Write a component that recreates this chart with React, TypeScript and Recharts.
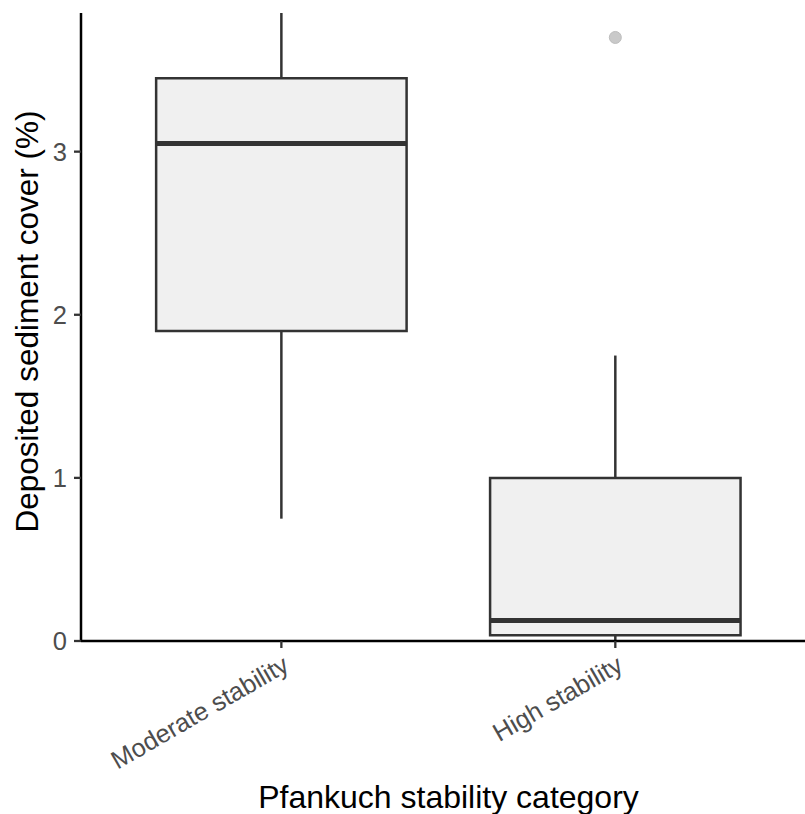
import React from 'react';
import { ComposedChart, XAxis, YAxis, Scatter, ReferenceArea, ReferenceLine } from 'recharts';

const FONT = '"Liberation Sans", Arial, Helvetica, sans-serif';

const categories = ['Moderate stability', 'High stability'];
const categoryPos = [1, 2];
const lowerWhisker = [0.75, 0.0];
const q1 = [1.9, 0.035];
const median = [3.05, 0.125];
const q3 = [3.45, 1.0];
const upperWhisker = [3.85, 1.75];
const outliers = [{ x: 2, y: 3.7 }];
const yTicks = [0, 1, 2, 3];
const boxWidth = 0.75;

const BOX_STROKE = '#333333';

const XTick = (props: any) => {
  const { x, y, payload } = props;
  const idx = categoryPos.indexOf(payload.value);
  return (
    <g transform={`translate(${x},${y})`}>
      <text
        transform="rotate(-30)"
        textAnchor="end"
        dy="0.72em"
        fill="#4d4d4d"
        fontSize={25.5}
        fontFamily={FONT}
      >
        {idx >= 0 ? categories[idx] : ''}
      </text>
    </g>
  );
};

const OutlierDot = (props: any) => {
  const { cx, cy } = props;
  return <circle cx={cx} cy={cy} r={6} fill="#c9c9c9" stroke="#bdbdbd" strokeWidth={1} />;
};

export default function App() {
  return (
    <div style={{ position: 'absolute', left: 0, top: 0 }}>
      <ComposedChart
        width={805}
        height={814}
        margin={{ top: 13, right: 0, bottom: 0, left: 0 }}
        data={outliers}
      >
        <XAxis
          type="number"
          dataKey="x"
          domain={[0.4, 2.568]}
          ticks={categoryPos}
          allowDataOverflow
          height={173}
          tickSize={7}
          tickMargin={6}
          axisLine={{ stroke: '#000', strokeWidth: 2.5 }}
          tickLine={{ stroke: '#333', strokeWidth: 2.3 }}
          tick={<XTick />}
          interval={0}
          label={{
            content: (p: any) => {
              const vb = p.viewBox;
              return (
                <text
                  x={vb.x + vb.width / 2 + 5.5}
                  y={vb.y + 167}
                  textAnchor="middle"
                  fill="#000"
                  fontSize={32}
                  fontFamily={FONT}
                >
                  Pfankuch stability category
                </text>
              );
            },
          }}
        />
        <YAxis
          type="number"
          dataKey="y"
          domain={[0, 3.85]}
          ticks={yTicks}
          allowDataOverflow
          width={81}
          tickSize={7}
          tickMargin={7}
          axisLine={{ stroke: '#000', strokeWidth: 2.5 }}
          tickLine={{ stroke: '#333', strokeWidth: 2.3 }}
          tick={{ fill: '#4d4d4d', fontSize: 25.5, fontFamily: FONT }}
          label={{
            content: (p: any) => {
              const vb = p.viewBox;
              const cy = vb.y + vb.height / 2 - 5.5;
              return (
                <text
                  x={37.5}
                  y={cy}
                  transform={`rotate(-90, 37.5, ${cy})`}
                  textAnchor="middle"
                  fill="#000"
                  fontSize={31.5}
                  fontFamily={FONT}
                >
                  Deposited sediment cover (%)
                </text>
              );
            },
          }}
        />
        {categoryPos.map((c, i) => (
          <ReferenceLine
            key={`uw-${i}`}
            segment={[{ x: c, y: q3[i] }, { x: c, y: upperWhisker[i] }]}
            stroke={BOX_STROKE}
            strokeWidth={2.5}
          />
        ))}
        {categoryPos.map((c, i) => (
          <ReferenceLine
            key={`lw-${i}`}
            segment={[{ x: c, y: lowerWhisker[i] }, { x: c, y: q1[i] }]}
            stroke={BOX_STROKE}
            strokeWidth={2.5}
          />
        ))}
        {categoryPos.map((c, i) => (
          <ReferenceArea
            key={`box-${i}`}
            x1={c - boxWidth / 2}
            x2={c + boxWidth / 2}
            y1={q1[i]}
            y2={q3[i]}
            fill="#f0f0f0"
            fillOpacity={1}
            stroke={BOX_STROKE}
            strokeWidth={2.5}
          />
        ))}
        {categoryPos.map((c, i) => (
          <ReferenceLine
            key={`med-${i}`}
            segment={[{ x: c - boxWidth / 2, y: median[i] }, { x: c + boxWidth / 2, y: median[i] }]}
            stroke={BOX_STROKE}
            strokeWidth={5}
          />
        ))}
        <Scatter data={outliers} dataKey="y" shape={<OutlierDot />} isAnimationActive={false} />
      </ComposedChart>
    </div>
  );
}
